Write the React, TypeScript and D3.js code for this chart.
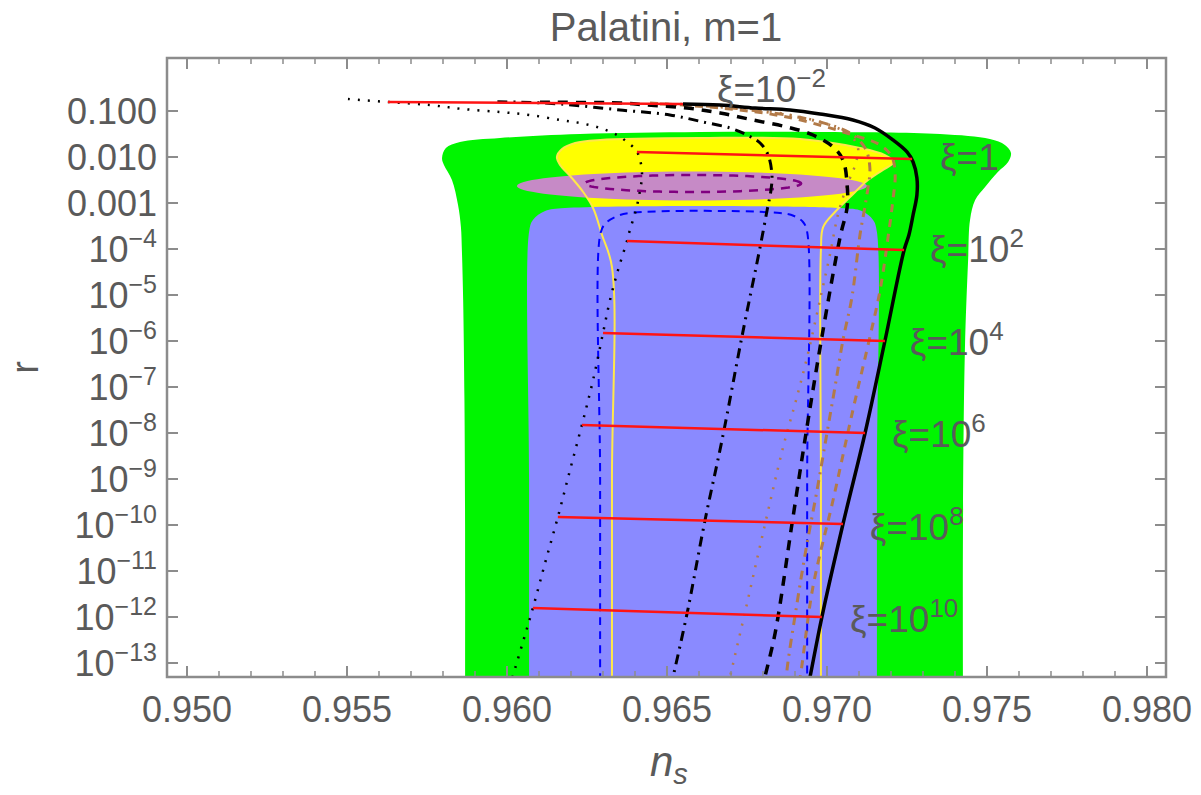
import React from "react";
import * as d3 from "d3";

const W = 1201;
const H = 795;

// ---------- axis ticks ----------
const xTickValues = [0.95, 0.955, 0.96, 0.965, 0.97, 0.975, 0.98];
const xTickLabels = ["0.950", "0.955", "0.960", "0.965", "0.970", "0.975", "0.980"];
const xMinorValues = [0.951, 0.952, 0.953, 0.954, 0.956, 0.957, 0.958, 0.959, 0.961, 0.962, 0.963, 0.964, 0.966, 0.967, 0.968, 0.969, 0.971, 0.972, 0.973, 0.974, 0.976, 0.977, 0.978, 0.979];
const yTickExp = [-1, -2, -3, -4, -5, -6, -7, -8, -9, -10, -11, -12, -13];
const yTickBase = ["0.100", "0.010", "0.001", "10", "10", "10", "10", "10", "10", "10", "10", "10", "10"];
const yTickSup = ["", "", "", "−4", "−5", "−6", "−7", "−8", "−9", "−10", "−11", "−12", "−13"];

// ---------- regions (ns, log10 r) ----------
const greenNs = [0.95869, 0.95869, 0.95869, 0.95867, 0.95863, 0.95859, 0.95856, 0.95847, 0.95828, 0.95803, 0.95797, 0.95809, 0.95853, 0.95978, 0.96228, 0.96603, 0.96978, 0.97353, 0.97509, 0.97556, 0.97575, 0.97566, 0.97534, 0.97494, 0.97463, 0.97447, 0.97441, 0.97431, 0.97425, 0.97425, 0.97425];
const greenLogR = [-16, -14.5, -10, -7.283, -5.109, -4.022, -3.522, -3.043, -2.5, -2.174, -2.022, -1.804, -1.674, -1.587, -1.5, -1.457, -1.457, -1.5, -1.609, -1.739, -1.913, -2.109, -2.326, -2.652, -2.935, -3.37, -4.239, -6.196, -10, -14.5, -16];

const yellowNs = [0.96328, 0.96328, 0.96328, 0.96328, 0.96297, 0.96269, 0.96238, 0.962, 0.96166, 0.96156, 0.96172, 0.96213, 0.96291, 0.96603, 0.96916, 0.97103, 0.97181, 0.97209, 0.97175, 0.97128, 0.97072, 0.97025, 0.96988, 0.96981, 0.96981, 0.96981, 0.96981];
const yellowLogR = [-16, -14.5, -9, -4.391, -3.696, -3.109, -2.761, -2.435, -2.174, -2.0, -1.826, -1.696, -1.63, -1.587, -1.609, -1.804, -1.957, -2.109, -2.28, -2.5, -2.87, -3.196, -3.522, -4.022, -9, -14.5, -16];

const blueNs = [0.96069, 0.96069, 0.96069, 0.96069, 0.96081, 0.96119, 0.96181, 0.97041, 0.97109, 0.97144, 0.97156, 0.97156, 0.97156, 0.97156];
const blueLogR = [-16, -14.5, -9, -3.63, -3.37, -3.174, -3.109, -3.109, -3.174, -3.37, -3.63, -9, -14.5, -16];

const blueDashNs = [0.96291, 0.96291, 0.96291, 0.96306, 0.96338, 0.96384, 0.96853, 0.96897, 0.96925, 0.96938, 0.96938, 0.96938];
const blueDashLogR = [-14, -9, -3.696, -3.457, -3.304, -3.217, -3.217, -3.283, -3.413, -3.63, -9, -14];

// ellipses: [centre ns, half-width ns, centre log r, half-height log r]
const purpleFill = [0.96578, 0.00547, -2.63, 0.315];
const purpleDash = [0.96581, 0.00338, -2.576, 0.185];

// ---------- curves (ns, log10 r) ----------
const dottedNs = [0.95503, 0.95628, 0.95759, 0.95863, 0.95978, 0.96072, 0.96166, 0.96228, 0.96291, 0.96344, 0.96375, 0.96403, 0.96416, 0.96422, 0.96416, 0.96403, 0.96384, 0.96375, 0.96347, 0.96322, 0.963, 0.96269, 0.96234, 0.96197, 0.96159, 0.96119, 0.96081, 0.96047, 0.96009];
const dottedLogR = [-0.739, -0.804, -0.87, -0.957, -1.022, -1.087, -1.196, -1.261, -1.37, -1.522, -1.674, -1.848, -2.065, -2.391, -2.717, -3.152, -3.587, -3.826, -4.457, -5.109, -5.826, -6.848, -7.826, -8.804, -9.826, -10.826, -11.804, -12.609, -13.5];

const dotDashNs = [0.9597, 0.96041, 0.96166, 0.96353, 0.96509, 0.96613, 0.96697, 0.9675, 0.96791, 0.96816, 0.96828, 0.96825, 0.96813, 0.96791, 0.96734, 0.96672, 0.96619, 0.96563, 0.96519, 0.96513];
const dotDashLogR = [-0.8, -0.808, -0.848, -0.978, -1.087, -1.239, -1.37, -1.522, -1.696, -1.957, -2.391, -2.717, -3.152, -3.957, -5.913, -8.152, -9.891, -11.913, -13.304, -13.5];

const dashedNs = [0.96103, 0.96353, 0.96438, 0.96563, 0.96666, 0.96769, 0.96875, 0.96956, 0.97019, 0.9705, 0.97063, 0.97063, 0.97041, 0.96984, 0.96931, 0.96891, 0.96838, 0.96806, 0.968];
const dashedLogR = [-0.812, -0.826, -0.87, -0.935, -1.043, -1.196, -1.348, -1.522, -1.783, -2.065, -2.609, -3.087, -3.739, -5.913, -8.152, -9.957, -12.348, -13.304, -13.5];

const solidNs = [0.9655, 0.96666, 0.96775, 0.96884, 0.96978, 0.97081, 0.9715, 0.97206, 0.9725, 0.97269, 0.97281, 0.97281, 0.97269, 0.97256, 0.97241, 0.97181, 0.97119, 0.9705, 0.96984, 0.96947, 0.96941];
const solidLogR = [-0.848, -0.87, -0.935, -0.978, -1.065, -1.196, -1.37, -1.63, -1.891, -2.109, -2.457, -2.826, -3.261, -3.696, -4.022, -6.0, -8.0, -9.978, -12.0, -13.304, -13.5];

const brownDotNs = [0.96541, 0.96666, 0.96791, 0.96916, 0.97009, 0.97072, 0.97097, 0.97088, 0.97063, 0.97034, 0.97009, 0.96978, 0.96941, 0.96906, 0.96863, 0.968, 0.96744, 0.96697, 0.96691];
const brownDotLogR = [-0.848, -0.891, -0.978, -1.13, -1.304, -1.522, -1.804, -2.174, -2.609, -3.261, -4.13, -5.109, -6.261, -7.217, -8.304, -10.174, -11.891, -13.304, -13.5];

const brownDotDashNs = [0.96478, 0.96666, 0.96853, 0.96978, 0.97072, 0.97119, 0.97134, 0.97122, 0.97103, 0.97078, 0.9705, 0.97025, 0.97, 0.96969, 0.96934, 0.96903, 0.96875, 0.96872];
const brownDotDashLogR = [-0.848, -0.913, -1.065, -1.239, -1.478, -1.804, -2.239, -2.935, -3.696, -5.043, -5.978, -7.0, -8.0, -9.239, -10.543, -11.848, -13.152, -13.5];

const brownDashNs = [0.96447, 0.96666, 0.96875, 0.97081, 0.97166, 0.97203, 0.97213, 0.97206, 0.97194, 0.97166, 0.97134, 0.97081, 0.97019, 0.96956, 0.96916, 0.96909];
const brownDashLogR = [-0.826, -0.935, -1.13, -1.522, -1.739, -2.0, -2.391, -2.935, -3.587, -4.891, -5.913, -7.5, -9.457, -11.348, -13.304, -13.5];

// ---------- constant-xi lines ----------
const xiNsStart = [0.95628, 0.96406, 0.96375, 0.963, 0.96234, 0.96159, 0.96081];
const xiLogRStart = [-0.804, -1.891, -3.826, -5.826, -7.826, -9.826, -11.804];
const xiNsEnd = [0.9655, 0.97266, 0.97241, 0.97181, 0.97119, 0.9705, 0.96984];
const xiLogREnd = [-0.848, -2.043, -4.022, -6.0, -8.0, -9.978, -12.0];
const xiLabelBase = ["ξ=10", "ξ=1", "ξ=10", "ξ=10", "ξ=10", "ξ=10", "ξ=10"];
const xiLabelSup = ["−2", "", "2", "4", "6", "8", "10"];
const xiLabelNs = [0.96656, 0.97353, 0.97322, 0.97259, 0.97203, 0.97134, 0.97072];
const xiLabelLogR = [-0.804, -2.283, -4.283, -6.304, -8.304, -10.326, -12.326];

const FONT = "'Liberation Sans', Arial, Helvetica, sans-serif";
const TXT = "#5a5a5a";
const BROWN = "#b27a48";

export default function App() {
  const left = 167, right = 1166, top = 58, bottom = 677;
  const x = d3.scaleLinear().domain([0.949375, 0.980594]).range([left, right]);
  const y = d3.scaleLog().domain([Math.pow(10, 0.152), Math.pow(10, -13.304)]).range([top, bottom]);
  const Y = (lr: number) => y(Math.pow(10, lr));
  const zipP = (a: number[], b: number[]) => a.map((v, i) => [v, b[i]] as [number, number]);

  const open = d3.line<[number, number]>().x((d) => x(d[0])).y((d) => Y(d[1])).curve(d3.curveCatmullRom.alpha(0.5));
  const closed = d3.line<[number, number]>().x((d) => x(d[0])).y((d) => Y(d[1])).curve(d3.curveCatmullRomClosed.alpha(0.5));

  const ellipse = (e: number[]) => {
    const pts: [number, number][] = d3.range(0, 360, 4).map((deg) => {
      const t = (deg * Math.PI) / 180;
      return [e[0] + e[1] * Math.cos(t), e[2] + e[3] * Math.sin(t)];
    });
    return d3.line<[number, number]>().x((d) => x(d[0])).y((d) => Y(d[1])).curve(d3.curveLinearClosed)(pts) || "";
  };

  const yellowPath = closed(zipP(yellowNs, yellowLogR)) || "";

  return (
    <svg width={W} height={H} style={{ position: "absolute", left: 0, top: 0, background: "#fff" }} fontFamily={FONT}>
      <defs>
        <clipPath id="plotClip">
          <rect x={left} y={top} width={right - left} height={bottom - top} />
        </clipPath>
      </defs>

      <g clipPath="url(#plotClip)">
        <path d={closed(zipP(greenNs, greenLogR)) || ""} fill="#00f500" />
        <path d={yellowPath} fill="#ffff00" />
        <path d={ellipse(purpleFill)} fill="#c68ac6" />
        <path d={closed(zipP(blueNs, blueLogR)) || ""} fill="#8a8aff" />
        <path d={yellowPath} fill="none" stroke="#ffe84a" strokeWidth={2} />
        <path d={ellipse(purpleDash)} fill="none" stroke="#800080" strokeWidth={2.5} strokeDasharray="9 7" />
        <path d={open(zipP(blueDashNs, blueDashLogR)) || ""} fill="none" stroke="#0000ff" strokeWidth={2} strokeDasharray="8 6" />

        {/* brown curves */}
        <path d={open(zipP(brownDotNs, brownDotLogR)) || ""} fill="none" stroke={BROWN} strokeWidth={2.5} strokeDasharray="2 8" />
        <path d={open(zipP(brownDotDashNs, brownDotDashLogR)) || ""} fill="none" stroke={BROWN} strokeWidth={3} strokeDasharray="9 6 2 6" />
        <path d={open(zipP(brownDashNs, brownDashLogR)) || ""} fill="none" stroke={BROWN} strokeWidth={3} strokeDasharray="8 7" />

        {/* black curves */}
        <path d={open(zipP(dottedNs, dottedLogR)) || ""} fill="none" stroke="#000" strokeWidth={2.5} strokeDasharray="2 8" />
        <path d={open(zipP(dotDashNs, dotDashLogR)) || ""} fill="none" stroke="#000" strokeWidth={3} strokeDasharray="10 6 2 6" />
        <path d={open(zipP(dashedNs, dashedLogR)) || ""} fill="none" stroke="#000" strokeWidth={3.5} strokeDasharray="10 8" />
        <path d={open(zipP(solidNs, solidLogR)) || ""} fill="none" stroke="#000" strokeWidth={3.5} />

        {/* constant xi lines */}
        {xiNsStart.map((v, i) => (
          <line key={i} x1={x(v)} y1={Y(xiLogRStart[i])} x2={x(xiNsEnd[i])} y2={Y(xiLogREnd[i])} stroke="#ff1414" strokeWidth={2.5} />
        ))}
      </g>

      {/* xi labels */}
      {xiLabelBase.map((b, i) => (
        <text key={i} x={x(xiLabelNs[i])} y={Y(xiLabelLogR[i])} fontSize={37} fill={TXT}>
          {b}
          {xiLabelSup[i] && (
            <tspan dy={-15} fontSize={26}>
              {xiLabelSup[i]}
            </tspan>
          )}
        </text>
      ))}

      {/* frame */}
      <rect x={left} y={top} width={right - left} height={bottom - top} fill="none" stroke="#8c8c8c" strokeWidth={2.5} />

      {/* x ticks */}
      {xTickValues.map((t) => (
        <g key={"xt" + t}>
          <line x1={x(t)} x2={x(t)} y1={bottom} y2={bottom - 11} stroke="#8c8c8c" strokeWidth={2} />
          <line x1={x(t)} x2={x(t)} y1={top} y2={top + 11} stroke="#8c8c8c" strokeWidth={2} />
        </g>
      ))}
      {xMinorValues.map((t) => (
        <g key={"xm" + t}>
          <line x1={x(t)} x2={x(t)} y1={bottom} y2={bottom - 6} stroke="#8c8c8c" strokeWidth={1.5} />
          <line x1={x(t)} x2={x(t)} y1={top} y2={top + 6} stroke="#8c8c8c" strokeWidth={1.5} />
        </g>
      ))}
      {xTickValues.map((t, i) => (
        <text key={"xl" + t} x={x(t)} y={bottom + 45} fontSize={36} textAnchor="middle" fill={TXT}>
          {xTickLabels[i]}
        </text>
      ))}

      {/* y ticks */}
      {yTickExp.map((e, i) => (
        <g key={"yt" + e}>
          <line x1={left} x2={left + 11} y1={Y(e)} y2={Y(e)} stroke="#8c8c8c" strokeWidth={2} />
          <line x1={right} x2={right - 11} y1={Y(e)} y2={Y(e)} stroke="#8c8c8c" strokeWidth={2} />
          <text x={left - 10} y={Y(e) + 13} fontSize={36} textAnchor="end" fill={TXT}>
            {yTickBase[i]}
            {yTickSup[i] && (
              <tspan dy={-15} fontSize={25}>
                {yTickSup[i]}
              </tspan>
            )}
          </text>
        </g>
      ))}

      {/* title and axis labels */}
      <text x={666} y={41} fontSize={40} textAnchor="middle" fill={TXT}>
        Palatini, m=1
      </text>
      <text x={0} y={0} transform={`translate(38, ${(top + bottom) / 2}) rotate(-90)`} fontSize={38} textAnchor="middle" fill={TXT}>
        r
      </text>
      <text x={650} y={776} fontSize={42} fontStyle="italic" fill={TXT}>
        n
        <tspan dy={8} fontSize={29}>
          s
        </tspan>
      </text>
    </svg>
  );
}
